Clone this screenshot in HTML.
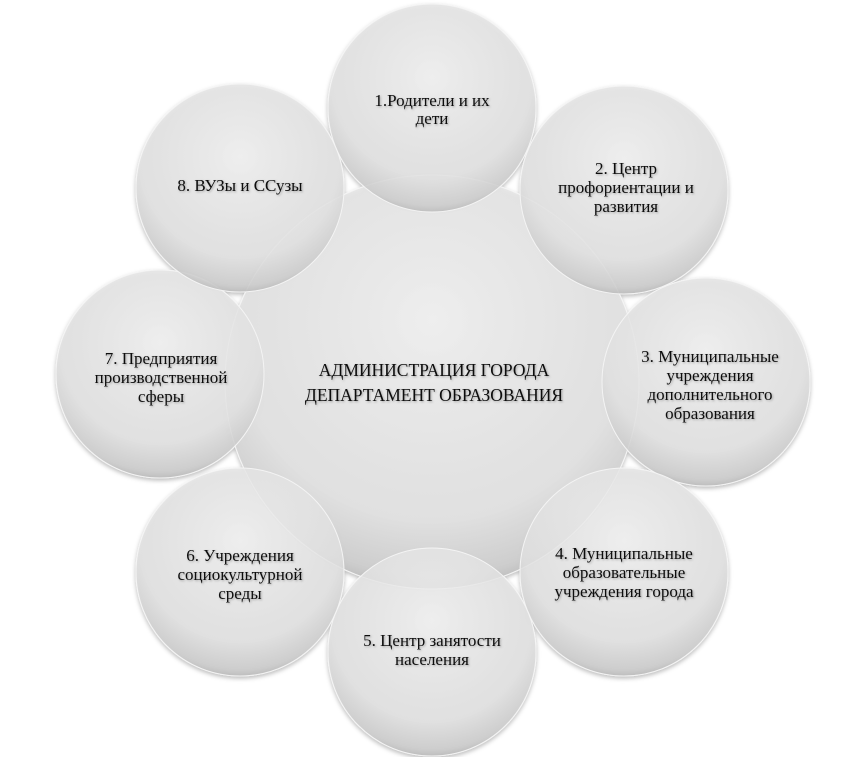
<!DOCTYPE html>
<html><head><meta charset="utf-8"><style>
html,body{margin:0;padding:0;background:#fff}
svg{display:block}
text{font-family:"Liberation Serif",serif;font-size:17px;fill:#111;text-anchor:middle}
text.c{font-size:17.5px}
</style></head><body>
<svg width="863" height="757" viewBox="0 0 863 757">
<defs>
<radialGradient id="g" cx="50%" cy="35%" r="65%">
<stop offset="0" stop-color="#f0f0f0"/>
<stop offset="0.75" stop-color="#e0e0e0"/>
<stop offset="0.95" stop-color="#cacaca"/>
<stop offset="1" stop-color="#b8b8b8"/>
</radialGradient>
<filter id="s" x="-20%" y="-20%" width="140%" height="140%">
<feDropShadow dx="0" dy="2" stdDeviation="2" flood-color="#000" flood-opacity="0.3"/>
</filter>
<filter id="t"><feDropShadow dx="1" dy="1" stdDeviation="1" flood-color="#000" flood-opacity="0.3"/></filter>
</defs>
<g filter="url(#s)" stroke="#f4f4f4" stroke-width="1" fill="url(#g)" fill-opacity="0.82">
<circle cx="432" cy="382" r="207"/>
<circle cx="432" cy="108" r="104"/>
<circle cx="624" cy="190" r="104"/>
<circle cx="706" cy="382" r="104"/>
<circle cx="624" cy="572" r="104"/>
<circle cx="432" cy="652" r="104"/>
<circle cx="240" cy="572" r="104"/>
<circle cx="160" cy="374" r="104"/>
<circle cx="240" cy="188" r="104"/>
</g>
<g filter="url(#t)">
<text x="432" y="106">1.Родители и их</text>
<text x="432" y="124">дети</text>
<text x="626" y="174">2. Центр</text>
<text x="626" y="193">профориентации и</text>
<text x="626" y="212">развития</text>
<text x="710" y="362">3. Муниципальные</text>
<text x="710" y="381">учреждения</text>
<text x="710" y="400">дополнительного</text>
<text x="710" y="419">образования</text>
<text x="624" y="559">4. Муниципальные</text>
<text x="624" y="578">образовательные</text>
<text x="624" y="597">учреждения города</text>
<text x="432" y="646">5. Центр занятости</text>
<text x="432" y="665">населения</text>
<text x="240" y="561">6. Учреждения</text>
<text x="240" y="580">социокультурной</text>
<text x="240" y="599">среды</text>
<text x="161" y="364">7. Предприятия</text>
<text x="161" y="383">производственной</text>
<text x="161" y="402">сферы</text>
<text x="240" y="191">8. ВУЗы и ССузы</text>
<text class="c" x="434" y="376">АДМИНИСТРАЦИЯ ГОРОДА</text>
<text class="c" x="434" y="401">ДЕПАРТАМЕНТ ОБРАЗОВАНИЯ</text>
</g>
</svg>
</body></html>
